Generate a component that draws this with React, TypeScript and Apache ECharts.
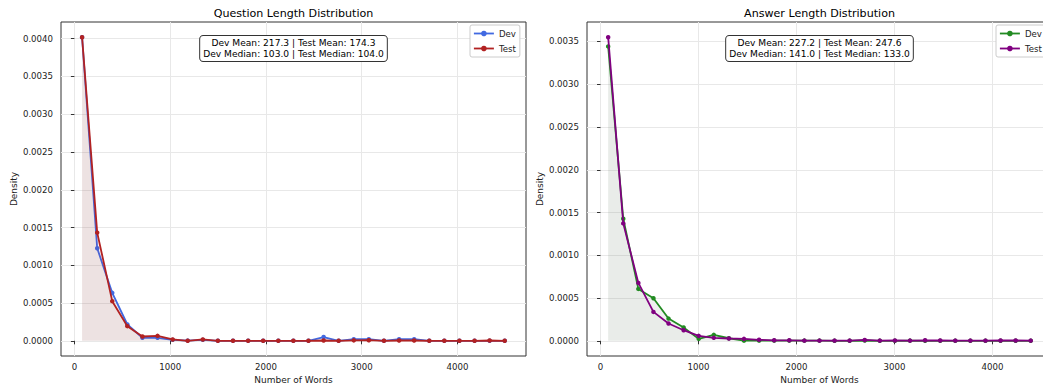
import React, { useEffect, useRef } from "react";
import * as echarts from "echarts";

const FONT = '"DejaVu Sans", Verdana, sans-serif';

// Question length histogram (bin centres, density)
const Q_BINS = [80, 238, 395, 553, 710, 868, 1026, 1183, 1341, 1498, 1656, 1814, 1971, 2129, 2286, 2444, 2602, 2759, 2917, 3074, 3232, 3390, 3547, 3705, 3862, 4020, 4178, 4335, 4493];
const Q_DEV = [0.00402, 0.001226, 0.000635, 0.000216, 0.00004, 0.00004, 0.000013, 0.000003, 0.000013, 0, 0, 0, 0, 0, 0, 0, 0.00005, 0, 0.000022, 0.000022, 0, 0.000022, 0.000022, 0, 0, 0, 0, 0, 0];
const Q_TEST = [0.00402, 0.001433, 0.000525, 0.000194, 0.000057, 0.000066, 0.000018, 0, 0.000018, 0, 0, 0, 0, 0, 0, 0, 0.000004, 0, 0.000006, 0.000008, 0, 0.000004, 0.000004, 0, 0, 0, 0, 0.000004, 0];

// Answer length histogram
const A_BINS = [78, 232, 386, 540, 694, 848, 1002, 1156, 1310, 1464, 1618, 1772, 1926, 2080, 2234, 2388, 2542, 2696, 2850, 3004, 3158, 3312, 3466, 3620, 3774, 3928, 4082, 4236, 4390];
const A_DEV = [0.003442, 0.001427, 0.000607, 0.000498, 0.00026, 0.000155, 0.000023, 0.00007, 0.00003, 0.000002, 0.000002, 0.000002, 0.000002, 0.000002, 0.000002, 0, 0, 0.000004, 0, 0, 0.000002, 0, 0, 0, 0, 0, 0, 0, 0];
const A_TEST = [0.00355, 0.001373, 0.000677, 0.000338, 0.000202, 0.000124, 0.000058, 0.000035, 0.000027, 0.000023, 0.000012, 0.000006, 0.000006, 0.000002, 0.000002, 0.000002, 0.000002, 0.00001, 0.000002, 0.000004, 0.000002, 0.000006, 0.000004, 0.000002, 0.000002, 0.000002, 0.000004, 0.000004, 0.000002];

const X_TICKS = [0, 1000, 2000, 3000, 4000];
const Q_Y_TICKS = [0, 0.0005, 0.001, 0.0015, 0.002, 0.0025, 0.003, 0.0035, 0.004];
const A_Y_TICKS = [0, 0.0005, 0.001, 0.0015, 0.002, 0.0025, 0.003, 0.0035];

const TITLES = ["Question Length Distribution", "Answer Length Distribution"];
const STATS = [
  "Dev Mean: 217.3 | Test Mean: 174.3\nDev Median: 103.0 | Test Median: 104.0",
  "Dev Mean: 227.2 | Test Mean: 247.6\nDev Median: 141.0 | Test Median: 133.0",
];
const SERIES_NAMES = ["Dev", "Test"];
const COLORS = [
  ["#4169e1", "#b22222"],
  ["#228b22", "#800080"],
];

const GRID_LEFT = [61, 587];
const GRID_W = 465;

function App() {
  const ref = useRef<HTMLDivElement>(null);
  useEffect(() => {
    if (!ref.current) return;
    const chart = echarts.init(ref.current, null, { renderer: "svg" });
    const labelStyle = { fontSize: 8.6, fontFamily: FONT, color: "#222" };

    const xAxis = [0, 1].map((i) => ({
      type: "value",
      gridIndex: i,
      min: i === 0 ? -140 : -138,
      max: i === 0 ? 4715 : 4607,
      splitNumber: 5,
      name: "Number of Words",
      nameLocation: "middle",
      nameGap: 15.5,
      nameTextStyle: { fontSize: 9, fontFamily: FONT, color: "#222" },
      axisLine: { show: false },
      axisTick: { show: true, length: 3.5, customValues: X_TICKS, lineStyle: { color: "#333" } },
      axisLabel: { ...labelStyle, margin: 6, customValues: X_TICKS, formatter: (v: number) => String(v) },
      splitLine: { show: true, lineStyle: { color: "#e8e8e8", width: 1 } },
    }));

    const yAxis = [0, 1].map((i) => {
      const ticks = i === 0 ? Q_Y_TICKS : A_Y_TICKS;
      return {
        type: "value",
        gridIndex: i,
        min: i === 0 ? -0.000201 : -0.0001775,
        max: i === 0 ? 0.004221 : 0.0037275,
        splitNumber: i === 0 ? 9 : 8,
        name: "Density",
        nameLocation: "middle",
        nameGap: 43,
        nameTextStyle: { fontSize: 9, fontFamily: FONT, color: "#222" },
        axisLine: { show: false },
        axisTick: { show: true, length: 3.5, customValues: ticks, lineStyle: { color: "#333" } },
        axisLabel: { ...labelStyle, margin: 8, customValues: ticks, formatter: (v: number) => v.toFixed(4) },
        splitLine: { show: true, lineStyle: { color: "#e8e8e8", width: 1 } },
      };
    });

    const datasets = [
      [Q_BINS, Q_DEV, Q_TEST],
      [A_BINS, A_DEV, A_TEST],
    ];
    const areaFill = [
      [{ color: "#808080", opacity: 0.1 }, { color: "#b22222", opacity: 0.07 }],
      [{ color: "#808080", opacity: 0.12 }, { color: "#228b22", opacity: 0.03 }],
    ];

    const series: any[] = [];
    [0, 1].forEach((g) => {
      const [bins, dev, test] = datasets[g];
      [dev, test].forEach((vals, s) => {
        series.push({
          type: "line",
          name: SERIES_NAMES[s],
          xAxisIndex: g,
          yAxisIndex: g,
          data: bins.map((x, k) => [x, vals[k]]),
          symbol: "circle",
          symbolSize: 4.5,
          showSymbol: true,
          lineStyle: { color: COLORS[g][s], width: 1.8 },
          itemStyle: { color: COLORS[g][s] },
          areaStyle: areaFill[g][s],
          z: 2 + s,
          silent: true,
        });
      });
    });

    const legends = [0, 1].map((g) => ({
      orient: "vertical",
      left: g === 0 ? 470 : 996,
      top: 25,
      itemWidth: 20,
      itemHeight: 7,
      itemGap: 6,
      padding: [4, 4, 4, 3],
      borderColor: "#cccccc",
      borderWidth: 1,
      borderRadius: 2,
      backgroundColor: "#ffffff",
      selectedMode: false,
      textStyle: { fontSize: 8.6, fontFamily: FONT, color: "#222" },
      data: SERIES_NAMES.map((n, s) => ({
        name: n,
        itemStyle: { color: COLORS[g][s] },
        lineStyle: { color: COLORS[g][s], width: 1.8 },
      })),
    }));

    const graphic: any[] = [];
    [0, 1].forEach((g) => {
      const cx = GRID_LEFT[g] + GRID_W / 2;
      graphic.push({
        type: "text",
        x: cx,
        y: 13,
        style: {
          text: TITLES[g],
          align: "center",
          verticalAlign: "middle",
          font: `11.1px ${FONT}`,
          fill: "#000",
        },
      });
      graphic.push({
        type: "text",
        x: cx,
        y: 48.5,
        z: 10,
        style: {
          text: STATS[g],
          align: "center",
          verticalAlign: "middle",
          font: `9.1px ${FONT}`,
          lineHeight: 11,
          fill: "#000",
          backgroundColor: "#ffffff",
          borderColor: "#333",
          borderWidth: 1,
          borderRadius: 3,
          padding: [1.5, 3, 1.5, 3],
        },
      });
    });

    chart.setOption({
      animation: false,
      backgroundColor: "#ffffff",
      textStyle: { fontFamily: FONT },
      grid: [0, 1].map((g) => ({
        left: GRID_LEFT[g],
        top: 22,
        width: GRID_W,
        height: 334,
        show: true,
        borderColor: "#333",
        borderWidth: 1,
        backgroundColor: "transparent",
        containLabel: false,
        outerBoundsMode: "none",
      })),
      xAxis,
      yAxis,
      legend: legends,
      series,
      graphic,
    });
    return () => chart.dispose();
  }, []);

  return (
    <div style={{ position: "fixed", left: 0, top: 0, width: 1043, height: 385, overflow: "hidden", background: "#fff" }}>
      <div ref={ref} style={{ width: 1060, height: 385 }} />
    </div>
  );
}

export default App;
